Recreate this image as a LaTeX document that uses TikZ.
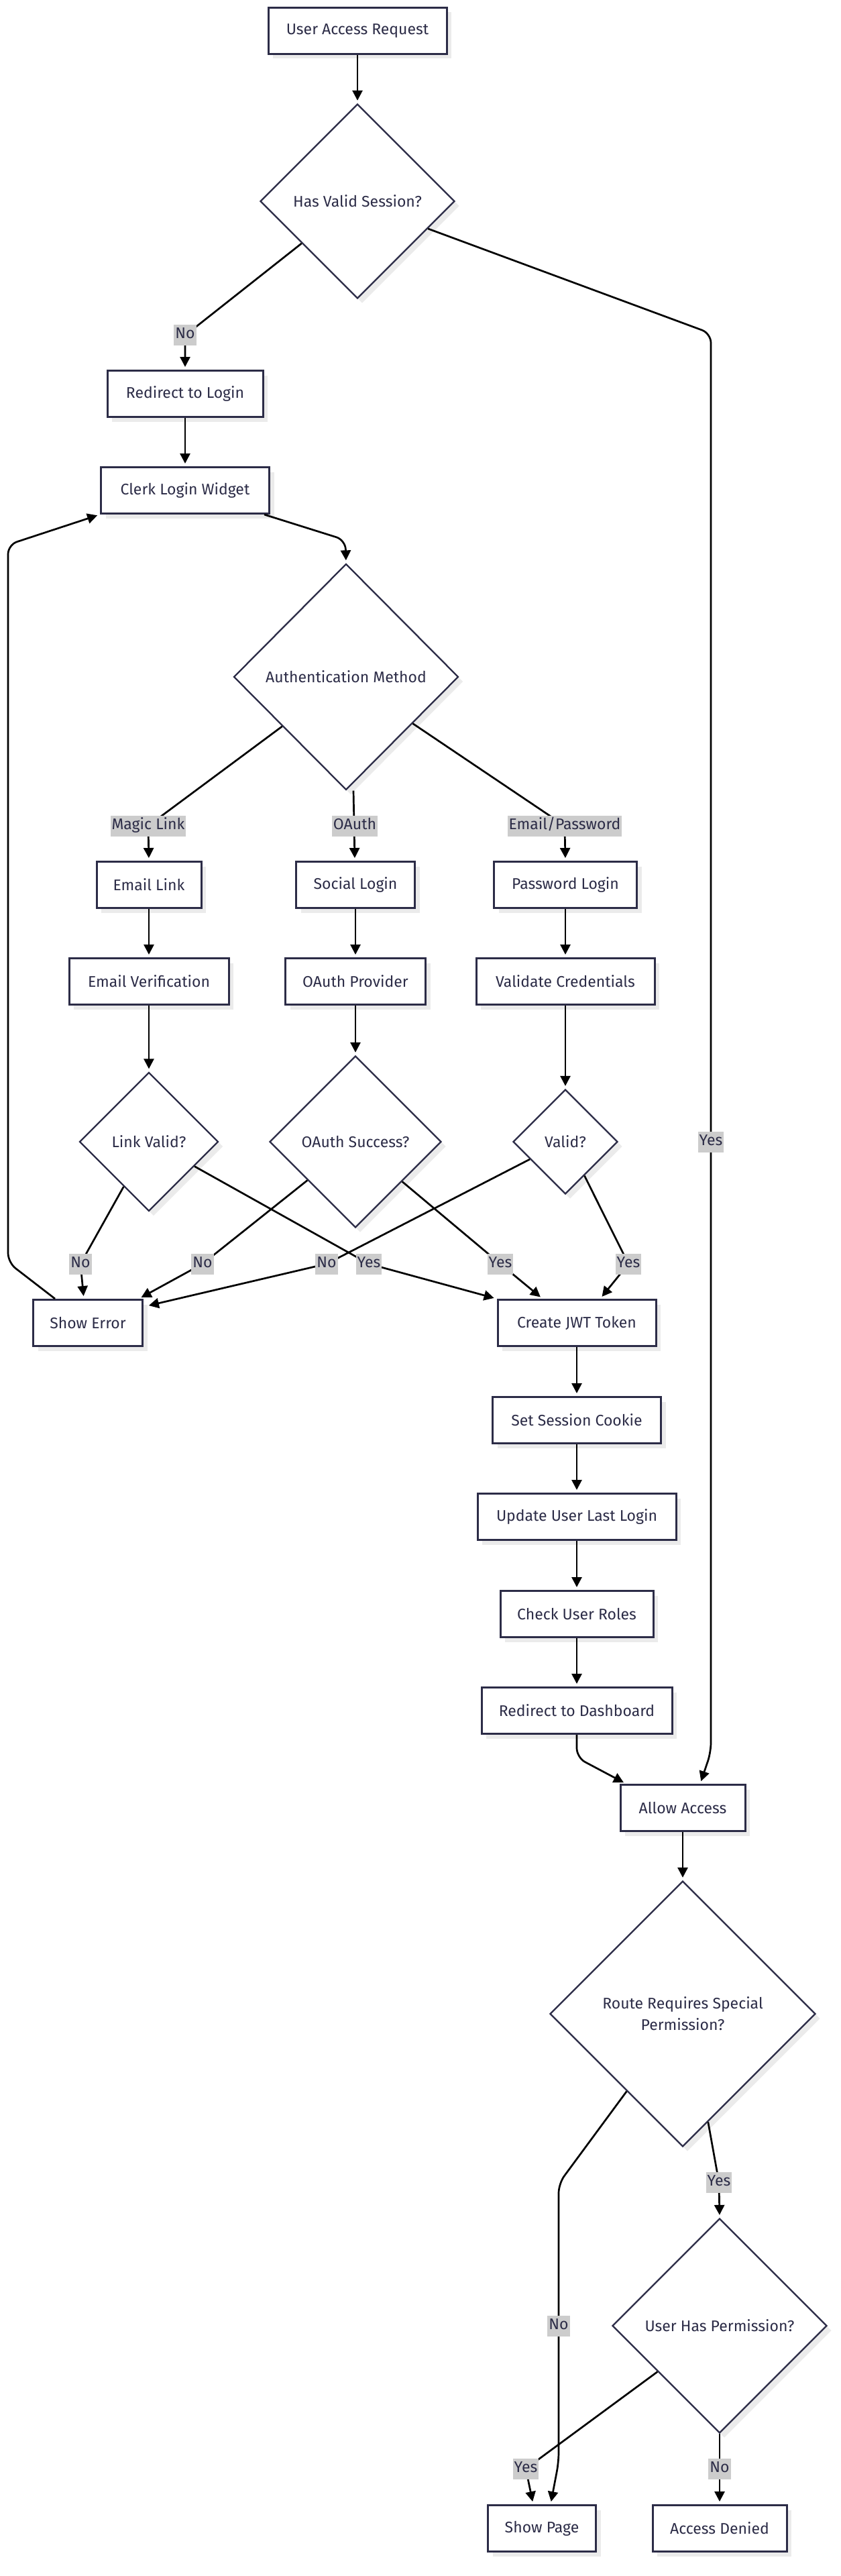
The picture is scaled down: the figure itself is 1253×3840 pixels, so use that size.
\documentclass[tikz,border=0pt]{standalone}
\usepackage{fontspec}
\setmainfont{Fira Sans}
\usetikzlibrary{shapes.geometric,arrows.meta,calc,shadows}
\definecolor{ink}{HTML}{2C2C47}
\definecolor{lbl}{HTML}{CCCCCC}
\definecolor{shade}{HTML}{EBEBEB}
\begin{document}
\begin{tikzpicture}[x=1pt,y=-1pt,
  every node/.style={font=\fontsize{23}{32}\selectfont, text=ink},
  box/.style={draw=ink, line width=3pt, fill=white, minimum height=69pt, inner sep=0pt,
    general shadow={fill=shade, shadow xshift=7pt, shadow yshift=-7pt}},
  dia/.style={diamond, aspect=1, draw=ink, line width=2.3pt, fill=white, inner sep=0pt,
    align=center, general shadow={fill=shade, shadow xshift=7pt, shadow yshift=-7pt}},
  lab/.style={fill=lbl, inner xsep=2pt, inner ysep=4pt, text height=17pt, text depth=6pt},
  conn/.style={line width=2.7pt, black, -{Triangle[length=15pt,width=15pt]}, shorten >=4pt, rounded corners=14pt}
]
\useasboundingbox (0,0) rectangle (1253,3840);
\fill[white] (0,0) rectangle (1253,3840);

% nodes
\node[box, minimum width=266pt] (uar) at (533,46) {User Access Request};
\node[dia, minimum width=290pt, minimum height=290pt] (hvs) at (533,300) {Has Valid Session?};
\node[box, minimum width=232pt] (rtl) at (276,587) {Redirect to Login};
\node[box, minimum width=251pt] (clw) at (276,731) {Clerk Login Widget};
\node[dia, minimum width=335pt, minimum height=337pt] (am) at (516,1009) {Authentication Method};
\node[box, minimum width=156pt] (el) at (222,1319) {Email Link};
\node[box, minimum width=177pt] (sl) at (530,1319) {Social Login};
\node[box, minimum width=213pt] (pl) at (843,1319) {Password Login};
\node[box, minimum width=238pt] (ev) at (222,1463) {Email Verification};
\node[box, minimum width=209pt] (op) at (530,1463) {OAuth Provider};
\node[box, minimum width=266pt] (vc) at (843,1463) {Validate Credentials};
\node[dia, minimum width=207pt, minimum height=207pt] (lv) at (222,1702) {Link Valid?};
\node[dia, minimum width=256pt, minimum height=256pt] (os) at (530,1702) {OAuth Success?};
\node[dia, minimum width=156pt, minimum height=156pt] (vd) at (843,1702) {Valid?};
\node[box, minimum width=163pt] (se) at (131,1972) {Show Error};
\node[box, minimum width=236pt] (jwt) at (860,1972) {Create JWT Token};
\node[box, minimum width=251pt] (ssc) at (860,2117) {Set Session Cookie};
\node[box, minimum width=296pt] (uul) at (860,2261) {Update User Last Login};
\node[box, minimum width=228pt] (cur) at (860,2406) {Check User Roles};
\node[box, minimum width=284pt] (rtd) at (860,2550) {Redirect to Dashboard};
\node[box, minimum width=186pt] (aa) at (1018,2695) {Allow Access};
\node[dia, minimum width=396pt, minimum height=396pt] (rr) at (1018,3002) {Route Requires Special\\Permission?};
\node[dia, minimum width=320pt, minimum height=320pt] (uhp) at (1073,3467) {User Has Permission?};
\node[box, minimum width=161pt] (sp) at (808,3769) {Show Page};
\node[box, minimum width=200pt] (ad) at (1073,3769) {Access Denied};

% connectors
\draw[conn] (uar) -- (hvs);
\draw[conn] ($(hvs.west)!0.43!(hvs.south)$) -- (276,500) -- (rtl.north);
\draw[conn] ($(hvs.east)!0.28!(hvs.south)$) -- (1060,497) -- (1060,2612) -- ($(aa.north)+(26,0)$);
\draw[conn] (rtl) -- (clw);
\draw[conn] ($(clw.south east)+(-9,0)$) -- (515,805) -- (am.north);
\draw[conn] ($(se.north west)+(34,0)$) -- (12,1882) -- (12,812) -- (clw.south west);
\draw[conn] ($(am.west)!0.435!(am.south)$) -- (221,1231) -- (el.north);
\draw[conn] ($(am.south)+(11,0)$) -- ($(sl.north)+(-1,0)$);
\draw[conn] ($(am.east)!0.41!(am.south)$) -- (842,1231) -- (pl.north);
\draw[conn] (el) -- (ev);
\draw[conn] (sl) -- (op);
\draw[conn] (pl) -- (vc);
\draw[conn] (ev) -- (lv);
\draw[conn] (op) -- (os);
\draw[conn] (vc) -- (vd);
\draw[conn] ($(lv.west)!0.64!(lv.south)$) -- (120,1884) -- ($(se.north)+(-6,0)$);
\draw[conn] ($(lv.east)!0.35!(lv.south)$) -- (550,1884) -- (jwt.north west);
\draw[conn] ($(os.west)!0.445!(os.south)$) -- (302,1884) -- ($(se.north east)+(-7,0)$);
\draw[conn] ($(os.east)!0.46!(os.south)$) -- (746,1884) -- ($(jwt.north)+(-51,0)$);
\draw[conn] ($(vd.west)!0.33!(vd.south)$) -- (487,1884) -- ($(se.north east)+(4,11)$);
\draw[conn] ($(vd.east)!0.64!(vd.south)$) -- (937,1884) -- ($(jwt.north)+(35,0)$);
\draw[conn] (jwt) -- (ssc);
\draw[conn] (ssc) -- (uul);
\draw[conn] (uul) -- (cur);
\draw[conn] (cur) -- (rtd);
\draw[conn] (rtd.south) -- (860,2620) -- ($(aa.north west)+(10,0)$);
\draw[conn] (aa) -- (rr);
\draw[conn] ($(rr.east)!0.81!(rr.south)$) -- (1072,3253) -- (uhp.north);
\draw[conn] ($(rr.west)!0.58!(rr.south)$) -- (833,3255) -- (833,3670) -- ($(sp.north)+(13,0)$);
\draw[conn] ($(uhp.west)!0.425!(uhp.south)$) -- (784,3680) -- ($(sp.north)+(-13,0)$);
\draw[conn] (uhp.south) -- (ad.north);

% labels
\node[lab] (l1) at (276,499) {No};
\node[lab] (l2) at (1060,1702) {Yes};
\node[lab] (l3) at (221,1231) {Magic Link};
\node[lab] (l4) at (529,1231) {OAuth};
\node[lab] (l5) at (842,1231) {Email/Password};
\node[lab] (l6) at (120,1884) {No};
\node[lab] (l7) at (302,1884) {No};
\node[lab] (l8) at (487,1884) {No};
\node[lab] (l9) at (550,1884) {Yes};
\node[lab] (l10) at (746,1884) {Yes};
\node[lab] (l11) at (937,1884) {Yes};
\node[lab] (l12) at (1072,3253) {Yes};
\node[lab] (l13) at (833,3467) {No};
\node[lab] (l14) at (784,3680) {Yes};
\node[lab] (l15) at (1073,3680) {No};
\end{tikzpicture}
\end{document}
